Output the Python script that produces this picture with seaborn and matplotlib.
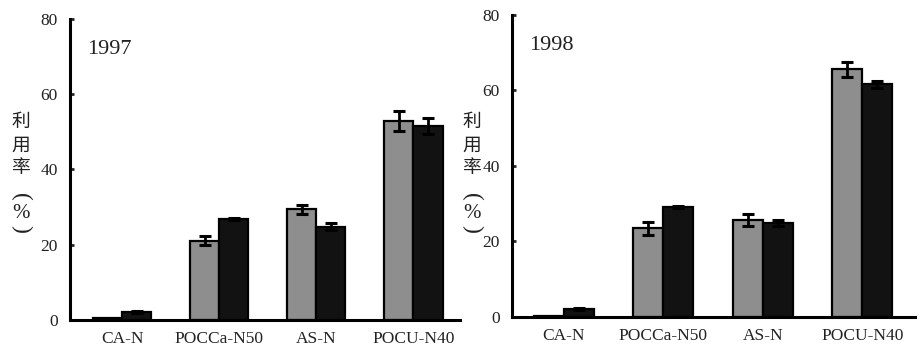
import matplotlib
matplotlib.use("Agg")
import matplotlib.pyplot as plt
import seaborn as sns
import pandas as pd
import numpy as np

categories = ["CA-N", "POCCa-N50", "AS-N", "POCU-N40"]
series = ["A", "B"]
years = ["1997", "1998"]

vals_1997_a = [0.4, 21.1, 29.4, 52.9]
vals_1997_b = [2.2, 26.8, 24.8, 51.6]
err_1997_a = [0.0, 1.2, 1.2, 2.6]
err_1997_b = [0.3, 0.3, 0.9, 2.2]

vals_1998_a = [0.3, 23.4, 25.6, 65.6]
vals_1998_b = [2.0, 29.0, 24.8, 61.6]
err_1998_a = [0.0, 1.8, 1.5, 2.0]
err_1998_b = [0.3, 0.3, 0.8, 0.9]

yticks = [0, 20, 40, 60, 80]

sns.set_theme(style="white")
plt.rcParams["font.family"] = ["Liberation Serif", "Noto Sans CJK SC", "DejaVu Sans"]

fig = plt.figure(figsize=(9.21, 3.49), dpi=100)
W, H = 921, 349

panels = [
    dict(year="1997", a=vals_1997_a, b=vals_1997_b, ea=err_1997_a, eb=err_1997_b,
         rect=[70 / W, 29 / H, 390 / W, (320 - 19) / H], xlim=(-0.536, 3.48),
         label_x=21, year_pos=(-0.36, 72)),
    dict(year="1998", a=vals_1998_a, b=vals_1998_b, ea=err_1998_a, eb=err_1998_b,
         rect=[512 / W, 32.3 / H, 403 / W, (316.7 - 15) / H], xlim=(-0.52, 3.53),
         label_x=472, year_pos=(-0.35, 72)),
]

colors = {"A": "#8e8e8e", "B": "#121212"}
# (char, y pixel, rotation, family, size)
ylabel_parts = [
    ("利", 121, 0, ["Noto Sans CJK SC"], 13.5),
    ("用", 145, 0, ["Noto Sans CJK SC"], 13.5),
    ("率", 168, 0, ["Noto Sans CJK SC"], 13.5),
    ("(", 197, -90, ["Liberation Serif"], 17),
    ("%", 213, 0, ["Liberation Serif"], 15),
    (")", 229, -90, ["Liberation Serif"], 17),
]

for p in panels:
    ax = fig.add_axes(p["rect"])
    df = pd.DataFrame({
        "cat": categories * 2,
        "series": ["A"] * 4 + ["B"] * 4,
        "val": list(p["a"]) + list(p["b"]),
    })
    sns.barplot(data=df, x="cat", y="val", hue="series", order=categories,
                hue_order=series, palette=colors, width=0.6, edgecolor="black",
                linewidth=1.6, errorbar=None, legend=False, ax=ax, saturation=1)
    errs = {"A": p["ea"], "B": p["eb"]}
    for cont, s in zip(ax.containers, series):
        xs = [r.get_x() + r.get_width() / 2 for r in cont]
        hs = [r.get_height() for r in cont]
        e = np.array(errs[s])
        mask = e > 0
        ax.errorbar(np.array(xs)[mask], np.array(hs)[mask], yerr=e[mask], fmt="none",
                    ecolor="black", elinewidth=2, capsize=4.5, capthick=2.2, zorder=5)
    ax.set_ylim(0, 80)
    ax.set_xlim(*p["xlim"])
    ax.set_yticks(yticks)
    ax.set_yticklabels([str(t) for t in yticks], fontsize=12.5, color="#222222")
    ax.set_xlabel("")
    ax.set_ylabel("")
    ax.tick_params(axis="y", direction="in", length=3, width=2, pad=9, left=True)
    ax.tick_params(axis="x", length=0, pad=8, labelsize=12.5, labelcolor="#222222")
    for side in ["top", "right"]:
        ax.spines[side].set_visible(False)
    for side in ["left", "bottom"]:
        ax.spines[side].set_color("black")
        ax.spines[side].set_linewidth(2.2)
    ax.text(p["year_pos"][0], p["year_pos"][1], p["year"], fontsize=16,
            color="#222222", ha="left", va="center")
    for ch, yy, rot, fam, fs in ylabel_parts:
        fig.text(p["label_x"] / W, 1 - yy / H, ch, fontsize=fs, ha="center",
                 va="center", color="#222222", rotation=rot,
                 rotation_mode="anchor", family=fam + ["DejaVu Sans"])

fig.savefig("out.png", dpi=100)
